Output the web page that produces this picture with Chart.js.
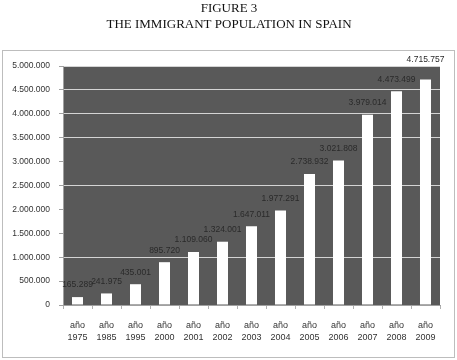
<!DOCTYPE html>
<html>
<head>
<meta charset="utf-8">
<script src="https://cdn.jsdelivr.net/npm/chart.js@4/dist/chart.umd.min.js"></script>
<style>
  html, body { margin: 0; padding: 0; background: #fff; }
  #wrap { width: 457px; height: 360px; }
</style>
</head>
<body>
<div id="wrap"><canvas id="immChart" width="457" height="360"></canvas></div>
<script>
// data
const years = ['1975', '1985', '1995', '2000', '2001', '2002', '2003', '2004', '2005', '2006', '2007', '2008', '2009'];
const immigrants = [165289, 241975, 435001, 895720, 1109060, 1324001, 1647011, 1977291, 2738932, 3021808, 3979014, 4473499, 4715757];
const yTicks = [0, 500000, 1000000, 1500000, 2000000, 2500000, 3000000, 3500000, 4000000, 4500000, 5000000];
// gridlines that don't show in the original
const hiddenGrid = [500000, 1500000, 2000000, 3000000];

const titleLines = ['FIGURE 3', 'THE IMMIGRANT POPULATION IN SPAIN'];

const dots = v => String(v).replace(/\B(?=(\d{3})+(?!\d))/g, '.');
const smallFamily = '"Liberation Sans", Arial, sans-serif';

const frame = {
  id: 'frame',
  beforeDraw(chart) {
    const { ctx, chartArea: a } = chart;
    ctx.save();
    ctx.fillStyle = '#fff';
    ctx.fillRect(0, 0, chart.width, chart.height);
    ctx.strokeStyle = '#bdbdbd';
    ctx.lineWidth = 1;
    ctx.strokeRect(2.5, 50.5, 452, 307);
    ctx.fillStyle = '#595959';
    ctx.fillRect(a.left, a.top, a.right - a.left, a.bottom - a.top);
    // titles
    ctx.fillStyle = '#111';
    ctx.font = '13px "Liberation Serif", "Times New Roman", serif';
    ctx.textAlign = 'center';
    ctx.textBaseline = 'middle';
    ctx.fillText(titleLines[0], 229, 9);
    ctx.fillText(titleLines[1], 229, 25);
    ctx.restore();
  }
};

const valueLabels = {
  id: 'valueLabels',
  afterDatasetsDraw(chart) {
    const { ctx, chartArea } = chart;
    const meta = chart.getDatasetMeta(0);
    ctx.save();
    ctx.fillStyle = '#2a2a2a';
    ctx.font = '8.5px ' + smallFamily;
    ctx.textAlign = 'center';
    ctx.textBaseline = 'middle';
    meta.data.forEach((bar, i) => {
      // labels that would hit the top of the plot sit above it, as in the original
      let y = bar.y - 12;
      if (y < chartArea.top + 8) y = chartArea.top - 6;
      ctx.fillText(dots(immigrants[i]), bar.x, y);
    });
    ctx.restore();
  }
};

new Chart(document.getElementById('immChart'), {
  type: 'bar',
  data: {
    labels: years.map(y => ['año', y]),
    datasets: [{
      data: immigrants,
      backgroundColor: '#ffffff',
      borderWidth: 0,
      barPercentage: 0.38,
      categoryPercentage: 1
    }]
  },
  options: {
    responsive: false,
    devicePixelRatio: 1,
    animation: false,
    layout: { padding: { left: 0, right: 17, top: 66, bottom: 0 } },
    plugins: {
      legend: { display: false },
      tooltip: { enabled: false },
      title: { display: false }
    },
    scales: {
      y: {
        min: 0,
        max: 5000000,
        afterBuildTicks: s => { s.ticks = yTicks.map(v => ({ value: v })); },
        afterFit: s => { s.width = 63; },
        ticks: {
          callback: v => dots(v),
          font: { family: smallFamily, size: 8.5 },
          color: '#333',
          padding: 9
        },
        grid: {
          color: c => (c.tick && hiddenGrid.includes(c.tick.value)) ? 'rgba(0,0,0,0)' : '#d4d4d4',
          tickColor: '#a0a0a0',
          tickLength: 4,
          lineWidth: 1
        },
        border: { color: '#a0a0a0' }
      },
      x: {
        afterFit: s => { s.height = 55; },
        ticks: {
          font: { family: smallFamily, size: 9, lineHeight: 1.35 },
          color: '#333',
          padding: 10,
          maxRotation: 0,
          autoSkip: false
        },
        grid: {
          drawOnChartArea: false,
          tickColor: '#b0b0b0',
          tickLength: 4
        },
        border: { color: '#a0a0a0' }
      }
    }
  },
  plugins: [frame, valueLabels]
});
</script>
</body>
</html>
